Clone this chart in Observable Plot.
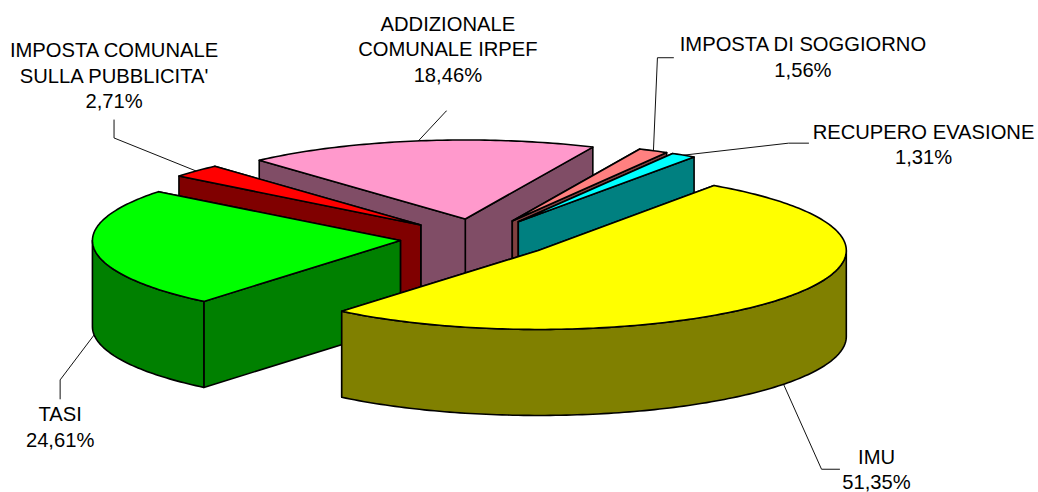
<!DOCTYPE html>
<html>
<head>
<meta charset="utf-8">
<script src="https://cdn.jsdelivr.net/npm/d3@7"></script>
<script src="https://cdn.jsdelivr.net/npm/@observablehq/plot@0.6"></script>
<style>html,body{margin:0;padding:0;background:#fff}svg{display:block}</style>
</head>
<body>
<div id="chart"></div>
<script>
// Data, clockwise from the first slice
const categories = ["IMU", "TASI", "IMPOSTA COMUNALE\nSULLA PUBBLICITA'", "ADDIZIONALE\nCOMUNALE IRPEF", "IMPOSTA DI SOGGIORNO", "RECUPERO EVASIONE"];
const shares = [51.35, 24.61, 2.71, 18.46, 1.56, 1.31];
const topColors = ["#ffff00", "#00ff00", "#ff0000", "#ff99cc", "#ff8080", "#00ffff"];
const sideColors = ["#808000", "#008000", "#800000", "#804d66", "#804040", "#008080"];

// Leader lines and label placement, relative to each slice's rim anchor
const elbowDx = [38, -34, -82, 28, 4, 105];
const elbowDy = [85, 45, -33, -30, -93, -12];
const tailDx = [56, -34, -82, 28, 20, 125];
const tailDy = [85, 64, -51, -30, -93, -12];
const labelDx = [93, -34, -82, 29.5, 149.5, 240];
const labelDy = [84, 91, -96.5, -93, -95, -12];

// Pie projection
const pie = {cx: 476.5, cy: 238, rx: 308, ry: 79, depth: 86, explode: 0.25, startAngle: 55.2};
const rad = d => d * Math.PI / 180;

let cursor = pie.startAngle;
const slices = categories.map((name, i) => {
  const start = cursor, end = cursor - shares[i] * 3.6;
  cursor = end;
  const mid = (start + end) / 2;
  const cx = pie.cx + pie.explode * pie.rx * Math.cos(rad(mid));
  const cy = pie.cy - pie.explode * pie.ry * Math.sin(rad(mid));
  const rim = a => [cx + pie.rx * Math.cos(rad(a)), cy - pie.ry * Math.sin(rad(a))];
  return {i, name, start, end, mid, cx, cy, rim};
});
// normalise so the visible-front test works on each slice
slices.forEach(s => {
  while (s.start > 180) { s.start -= 360; s.end -= 360; }
  while (s.start <= -180) { s.start += 360; s.end += 360; }
});

const arc = (a0, a1) => {
  const n = Math.max(1, Math.ceil(Math.abs(a0 - a1)));
  return d3.range(n + 1).map(k => a0 + (a1 - a0) * k / n);
};

// Painter's order: back to front
const order = [...slices].sort((a, b) => Math.sin(rad(b.mid)) - Math.sin(rad(a.mid)));
const polygons = [];
let id = 0;
const add = (pts, fill) => {
  id++;
  pts.forEach(([x, y]) => polygons.push({x, y, id, fill}));
};
for (const s of order) {
  const side = sideColors[s.i], top = topColors[s.i];
  // radial walls, rear one first
  const walls = [s.start, s.end].sort((a, b) => s.rim(a)[1] - s.rim(b)[1]);
  for (const a of walls) {
    const [x, y] = s.rim(a);
    add([[s.cx, s.cy], [x, y], [x, y + pie.depth], [s.cx, s.cy + pie.depth]], side);
  }
  // front rim
  const hi = Math.min(s.start, 0), lo = Math.max(s.end, -180);
  if (lo < hi) {
    const a = arc(hi, lo);
    add([...a.map(s.rim), ...a.reverse().map(t => { const [x, y] = s.rim(t); return [x, y + pie.depth]; })], side);
  }
  // top face
  add([[s.cx, s.cy], ...arc(s.start, s.end).map(s.rim)], top);
}

// Rim anchors: front-facing slices anchor on the lower rim edge
const anchors = slices.map(s => {
  const [x, y] = s.rim(s.mid);
  return {x, y: y + (Math.sin(rad(s.mid)) < 0 ? pie.depth : 0)};
});
const leaders = slices.flatMap((s, i) => {
  const a = anchors[i];
  return [
    {i, x: a.x, y: a.y},
    {i, x: a.x + elbowDx[i], y: a.y + elbowDy[i]},
    {i, x: a.x + tailDx[i], y: a.y + tailDy[i]}
  ];
});
const fmt = v => d3.format(".2f")(v).replace(".", ",") + "%";
const labels = slices.map((s, i) => ({
  x: anchors[i].x + labelDx[i],
  y: anchors[i].y + labelDy[i],
  text: s.name + "\n" + fmt(shares[i])
}));

const fontSize = 20.2;
const plot = Plot.plot({
  width: 1038, height: 492, margin: 0,
  x: {domain: [0, 1038], range: [0, 1038], axis: null},
  y: {domain: [0, 492], range: [0, 492], axis: null},
  style: {background: "#fff"},
  marks: [
    Plot.line(leaders, {x: "x", y: "y", z: "i", stroke: "#111", strokeWidth: 1}),
    Plot.line(polygons, {x: "x", y: "y", z: "id", fill: "fill", stroke: "#000", strokeWidth: 1.6, curve: "linear-closed"}),
    Plot.text(labels, {x: "x", y: "y", text: "text", fill: "#000", fontSize, fontFamily: "'Liberation Sans', Arial, sans-serif", lineHeight: 25.5 / fontSize, textAnchor: "middle", lineAnchor: "middle"})
  ]
});
document.getElementById("chart").append(plot);
</script>
</body>
</html>
